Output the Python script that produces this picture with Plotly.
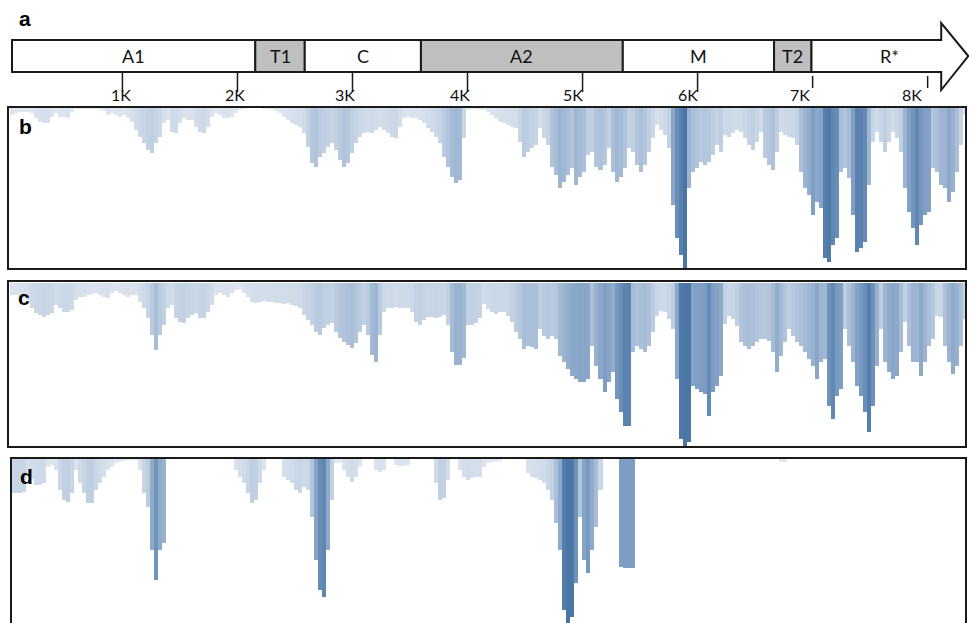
import numpy as np
import plotly.graph_objects as go

W, H = 969, 623

# ---- genome map (panel a) ----
GENES = ["A1", "T1", "C", "A2", "M", "T2", "R*"]
GENE_START = [40, 2155, 2585, 3595, 5350, 6665, 6990]
GENE_END = [2155, 2585, 3595, 5350, 6665, 6990, 8353]
GENE_SHADED = [False, True, False, True, False, True, False]

TICK_BP = [1000, 2000, 3000, 4000, 5000, 6000, 7000, 8000]
TICK_LABELS = ["1K", "2K", "3K", "4K", "5K", "6K", "7K", "8K"]

# ---- read coverage in fixed-width bins along the genome ----
COV_START_BP = 23
BIN_BP = 34.8
N_BINS = 239

COV_B = [
    7, 5, 4, 4, 4, 5, 10, 14, 15, 15,
    9, 5, 9, 9, 10, 4, 1, 1, 1, 1,
    1, 1, 2, 3, 7, 5, 7, 9, 7, 10,
    14, 22, 29, 35, 42, 45, 35, 29, 15, 12,
    24, 25, 15, 10, 12, 12, 19, 24, 25, 19,
    9, 5, 7, 10, 10, 9, 5, 2, 1, 0,
    0, 0, 0, 1, 1, 2, 3, 5, 9, 12,
    15, 17, 19, 25, 39, 55, 59, 49, 45, 39,
    35, 42, 52, 59, 55, 45, 35, 29, 25, 24,
    25, 22, 19, 22, 25, 29, 30, 19, 10, 9,
    10, 10, 12, 15, 20, 24, 29, 35, 49, 59,
    69, 75, 72, 30, 2, 1, 1,
    2, 2, 4, 7, 10, 14, 15, 17, 19, 20,
    34, 49, 44, 40, 37, 20, 30, 37, 59, 67,
    80, 74, 67, 60, 77, 69, 64, 47, 44, 59,
    62, 57, 40, 64, 74, 69, 60, 40, 44, 57,
    64, 57, 44, 30, 17, 22, 27, 40, 97, 130,
    147, 160, 80, 64, 60, 54, 57, 54, 47, 37,
    44, 27, 29, 25, 22, 24, 30, 37, 42, 34,
    24, 50, 57, 62, 44, 24, 27, 29, 30, 37,
    64, 80, 87, 107, 94, 100, 150, 154, 137, 130,
    64, 60, 70, 107, 144, 140, 134, 77, 34, 24,
    34, 44, 34, 24, 30, 44, 80, 104, 120, 137,
    117, 107, 104, 60, 64, 77, 80, 94, 84, 64,
    37, 7,
]

COV_C = [
    12, 12, 14, 15, 17, 25, 30, 32, 34, 32,
    30, 22, 25, 29, 29, 27, 17, 14, 14, 12,
    11, 10, 12, 14, 15, 10, 8, 10, 12, 14,
    12, 12, 19, 25, 35, 52, 67, 52, 42, 25,
    22, 35, 39, 40, 35, 32, 30, 35, 35, 29,
    22, 12, 10, 12, 14, 10, 7, 6, 10, 14,
    19, 20, 19, 18, 19, 19, 20, 20, 21, 20,
    22, 23, 25, 32, 37, 42, 49, 52, 45, 42,
    40, 49, 55, 59, 62, 65, 60, 49, 42, 52,
    72, 79, 52, 29, 25, 25, 24, 25, 25, 25,
    29, 39, 42, 37, 34, 34, 35, 34, 32, 42,
    69, 82, 82, 75, 42, 42, 40,
    35, 21, 26, 29, 31, 29, 29, 33, 39, 49,
    56, 66, 63, 64, 66, 46, 53, 56, 53, 56,
    73, 79, 86, 93, 96, 99, 99, 96, 63, 83,
    96, 109, 99, 89, 116, 129, 143, 143, 69, 63,
    66, 69, 63, 49, 33, 28, 29, 36, 46, 96,
    156, 163, 159, 103, 106, 109, 111, 133, 109, 103,
    93, 41, 33, 36, 43, 59, 63, 66, 63, 59,
    56, 56, 58, 69, 89, 73, 59, 46, 53, 59,
    63, 69, 76, 83, 96, 79, 76, 123, 136, 113,
    106, 46, 63, 79, 103, 113, 129, 149, 123, 83,
    46, 79, 89, 96, 93, 69, 39, 63, 79, 79,
    93, 79, 63, 56, 33, 34, 63, 79, 91, 83,
    63, 36,
]

COV_D = (
    [34, 34, 34, 33, 15, 20, 26, 26, 24, 8,
     6, 11, 31, 41, 43, 34, 11, 24, 34, 44,
     44, 31, 24, 18, 11, 8, 4, 3, 2, 1,
     1, 1, 11, 34, 48, 91, 121, 91, 84, 0]
    + [0] * 16
    + [11, 18, 24, 34, 44, 41, 24, 11, 0, 0, 0, 0,
       18, 21, 24, 31, 34, 28, 31, 58, 101, 131,
       138, 91, 41, 4, 4, 11, 18, 23, 18, 8,
       0, 0, 0, 11, 13, 11, 0, 0, 6, 7, 7, 6]
    + [0] * 6
    + [24, 41, 39, 21, 0, 0, 11, 18, 21, 19, 18]
    + [18, 8, 4, 3, 3, 2]
    + [0] * 6
    + [14, 18, 19, 21, 24, 31, 41, 64, 91, 151,
       168, 158, 124, 58, 101, 114, 91, 68, 31]
    + [0] * 4
    + [108, 109, 109, 109]
    + [0] * 36 + [3, 3] + [0] * 45
)

for series in (COV_B, COV_C, COV_D):
    assert len(series) == N_BINS

# shared genome axis: pixel = X0_PX + PX_PER_BP * bp
X0_PX, PX_PER_BP = 7.4, 0.11503
X_RANGE = [-X0_PX / PX_PER_BP, (W - X0_PX) / PX_PER_BP]

COLORSCALE = [[0.0, "#e2e9f1"], [0.3, "#bccde0"], [0.6, "#8aa7c9"], [1.0, "#4a76a6"]]
EDGE = "#1a1a1a"
MAP_FONT = "Lato, Open Sans, sans-serif"


def py(px):
    """Vertical pixel position -> paper fraction."""
    return 1 - px / H


def px_x(px):
    return px / W


fig = go.Figure()

# coverage panels: (values, top px, bottom px of the bar area)
panels = [(COV_B, 108, 268), (COV_C, 283, 446), (COV_D, 459, 623)]
centers = COV_START_BP + (np.arange(N_BINS) + 0.5) * BIN_BP
for i, (cov, top, bot) in enumerate(panels, start=1):
    vals = np.array(cov, dtype=float)
    sfx = str(i) if i > 1 else ""
    fig.add_trace(go.Bar(
        x=centers, y=vals, width=BIN_BP,
        marker=dict(color=vals, colorscale=COLORSCALE, cmin=0, cmax=160,
                    line=dict(width=0)),
        xaxis="x" + sfx, yaxis="y" + sfx,
        hoverinfo="skip", showlegend=False,
    ))
    fig.layout["xaxis" + sfx] = dict(domain=[0, 1], range=X_RANGE, visible=False,
                                      showgrid=False, zeroline=False, fixedrange=True)
    fig.layout["yaxis" + sfx] = dict(domain=[py(bot), py(top)], range=[bot - top, 0],
                                      visible=False, showgrid=False, zeroline=False,
                                      anchor="x" + sfx)

shapes = []
annotations = []

# panel frames
frames = [(8, 966, 107, 269), (8, 966, 281, 447), (11, 966, 458, 660)]
for x0, x1, y0, y1 in frames:
    shapes.append(dict(type="rect", xref="paper", yref="paper",
                       x0=px_x(x0), x1=px_x(x1), y0=py(y1), y1=py(y0),
                       line=dict(color=EDGE, width=2), fillcolor="rgba(0,0,0,0)",
                       layer="above"))

# panel letters
for letter, (lx, ly) in zip("abcd", [(17, 18), (17, 126), (16, 297), (18, 476)]):
    annotations.append(dict(text=f"<b>{letter}</b>", xref="paper", yref="paper",
                            x=px_x(lx), y=py(ly), xanchor="left", yanchor="middle",
                            showarrow=False,
                            font=dict(family="Liberation Sans, Arial", size=21, color="#000")))

# genome map boxes
BOX_TOP, BOX_BOT, HEAD_TOP, HEAD_BOT = 40, 72, 23, 90
ARROW_HEAD_BP = 235
for name, s, e, shaded in zip(GENES, GENE_START, GENE_END, GENE_SHADED):
    fill = "#bfbfbf" if shaded else "#ffffff"
    if name == GENES[-1]:
        hb = e - ARROW_HEAD_BP
        mid = (BOX_TOP + BOX_BOT) / 2
        path = (f"M {s},{py(BOX_TOP)} L {hb},{py(BOX_TOP)} L {hb},{py(HEAD_TOP)} "
                f"L {e},{py(mid)} L {hb},{py(HEAD_BOT)} L {hb},{py(BOX_BOT)} "
                f"L {s},{py(BOX_BOT)} Z")
        shapes.append(dict(type="path", xref="x", yref="paper", path=path,
                           fillcolor=fill, line=dict(color=EDGE, width=2)))
    else:
        shapes.append(dict(type="rect", xref="x", yref="paper", x0=s, x1=e,
                           y0=py(BOX_BOT), y1=py(BOX_TOP), fillcolor=fill,
                           line=dict(color=EDGE, width=2)))
    annotations.append(dict(text=name, xref="x", yref="paper", x=(s + e) / 2,
                            y=py((BOX_TOP + BOX_BOT) / 2), showarrow=False,
                            xanchor="center", yanchor="middle",
                            font=dict(family=MAP_FONT, size=18, color="#111")))

# scale ticks under the map
TICK_LABEL_SHIFT = [-1, -2, -7, -8, -10, -10, -13, -16]
for j, (t, lab, sh) in enumerate(zip(TICK_BP, TICK_LABELS, TICK_LABEL_SHIFT)):
    y0, y1 = (73, 92) if j < 6 else (76, 88)
    shapes.append(dict(type="line", xref="x", yref="paper", x0=t, x1=t,
                       y0=py(y1), y1=py(y0), line=dict(color=EDGE, width=1.5)))
    annotations.append(dict(text=lab, xref="x", yref="paper", x=t, xshift=sh,
                            y=py(95), showarrow=False, xanchor="center",
                            yanchor="middle",
                            font=dict(family=MAP_FONT, size=16, color="#111")))

fig.update_layout(
    width=W, height=H, margin=dict(l=0, r=0, t=0, b=0),
    paper_bgcolor="white", plot_bgcolor="white",
    bargap=0, shapes=shapes, annotations=annotations, showlegend=False,
)

fig.write_html("out.html")
